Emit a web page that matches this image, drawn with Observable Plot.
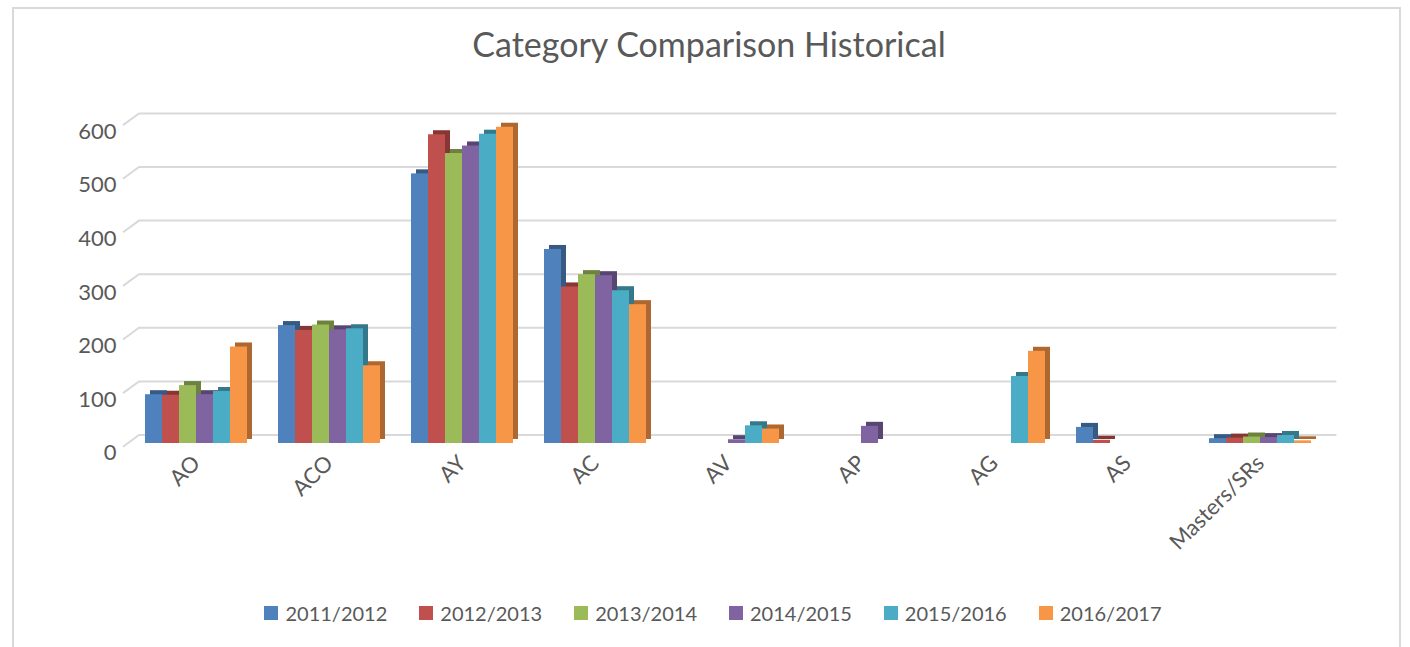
<!DOCTYPE html>
<html>
<head>
<meta charset="utf-8">
<script src="https://cdn.jsdelivr.net/npm/d3@7"></script>
<script src="https://cdn.jsdelivr.net/npm/@observablehq/plot@0.6"></script>
<style>
  html, body { margin: 0; padding: 0; background: #fff; overflow: hidden; }
  body { width: 1410px; height: 647px; position: relative; font-family: Lato, "Open Sans", sans-serif; color: #595959; }
  #frame { position: absolute; left: 12px; top: 7px; width: 1389px; height: 700px; border: 2px solid #d9d9d9; box-sizing: border-box; pointer-events: none; }
  #title { height: 88px; line-height: 88px; text-align: center; font-size: 34px; color: #595959; position: relative; padding-left: 8px; }
  #chart { height: 500px; position: relative; }
  #chart svg { display: block; }
  #legend { height: 50px; display: flex; justify-content: center; align-items: center; font-size: 20px; color: #595959; position: relative; padding-left: 16px; }
  .item { display: flex; align-items: center; margin: 0 16px; }
  .sw { width: 14px; height: 14px; margin-right: 7px; }
</style>
</head>
<body>
<div id="frame"></div>
<div id="title">Category Comparison Historical</div>
<div id="chart"></div>
<div id="legend"></div>
<script>
const categories = ["AO", "ACO", "AY", "AC", "AV", "AP", "AG", "AS", "Masters/SRs"];
const seriesNames = ["2011/2012", "2012/2013", "2013/2014", "2014/2015", "2015/2016", "2016/2017"];
const colors = ["#4F81BD", "#C0504D", "#9BBB59", "#8064A2", "#4BACC6", "#F79646"];
// values per series, aligned with categories
const s2011 = [91, 220, 503, 362, 0, 0, 0, 30, 9];
const s2012 = [90, 211, 576, 292, 0, 0, 0, 6, 10];
const s2013 = [108, 221, 541, 315, 0, 0, 0, 0, 12];
const s2014 = [91, 212, 555, 313, 7, 32, 0, 0, 11];
const s2015 = [97, 214, 577, 285, 33, 0, 125, 0, 15];
const s2016 = [180, 145, 590, 259, 27, 0, 172, 0, 5];
const yTicks = [0, 100, 200, 300, 400, 500, 600];

const allSeries = [s2011, s2012, s2013, s2014, s2015, s2016];
const data = [];
allSeries.forEach((vals, si) => {
  vals.forEach((v, ci) => {
    if (v > 0) data.push({cat: categories[ci], series: seriesNames[si], value: v});
  });
});

const plot = Plot.plot({
  width: 1410,
  height: 500,
  marginLeft: 129,
  marginRight: 83.6,
  marginTop: 33.4,
  marginBottom: 145,
  style: {fontFamily: "Lato, 'Open Sans', sans-serif", fontSize: "22px", color: "#595959", background: "transparent"},
  fx: {domain: categories, paddingInner: 0.2, paddingOuter: 0.1, label: null, axis: "bottom", tickRotate: -45, tickSize: 0, tickPadding: 16},
  x: {domain: seriesNames, padding: 0, axis: null},
  y: {domain: [0, 600], ticks: yTicks, label: null, tickSize: 0, tickPadding: 27},
  color: {domain: seriesNames, range: colors},
  marks: [
    Plot.barY(data, {fx: "cat", x: "series", y: "value", fill: "series", dx: 5, dy: -4}),
    Plot.barY(data, {fx: "cat", x: "series", y: "value", fill: "black", fillOpacity: 0.3, dx: 5, dy: -4}),
    Plot.barY(data, {fx: "cat", x: "series", y: "value", fill: "series"})
  ]
});

// y-axis labels slightly lower like the reference
d3.select(plot).selectAll("g[aria-label='y-axis tick label'] text, g[aria-label='y-axis'] text").attr("dy", "0.45em");

// back-wall gridlines with a 3D diagonal, drawn through the plot's own scales
const ys = plot.scale("y");
const fxs = plot.scale("fx");
const x0 = fxs.range[0], x1 = fxs.range[1];
const grid = d3.create("svg:g").attr("stroke", "#d9d9d9").attr("stroke-width", 2).attr("fill", "none");
yTicks.forEach(t => {
  const py = ys.apply(t);
  grid.append("path").attr("d", `M${x0 - 6},${py + 3.7}L${x0 + 10},${py - 8}L${x1 + 10},${py - 8}`);
});
const svg = plot.tagName.toLowerCase() === "svg" ? plot : plot.querySelector("svg");
const firstG = svg.querySelector("g");
svg.insertBefore(grid.node(), firstG);

document.getElementById("chart").appendChild(plot);

const legend = d3.select("#legend");
seriesNames.forEach((s, i) => {
  const it = legend.append("div").attr("class", "item");
  it.append("div").attr("class", "sw").style("background", colors[i]);
  it.append("span").text(s);
});
</script>
</body>
</html>
